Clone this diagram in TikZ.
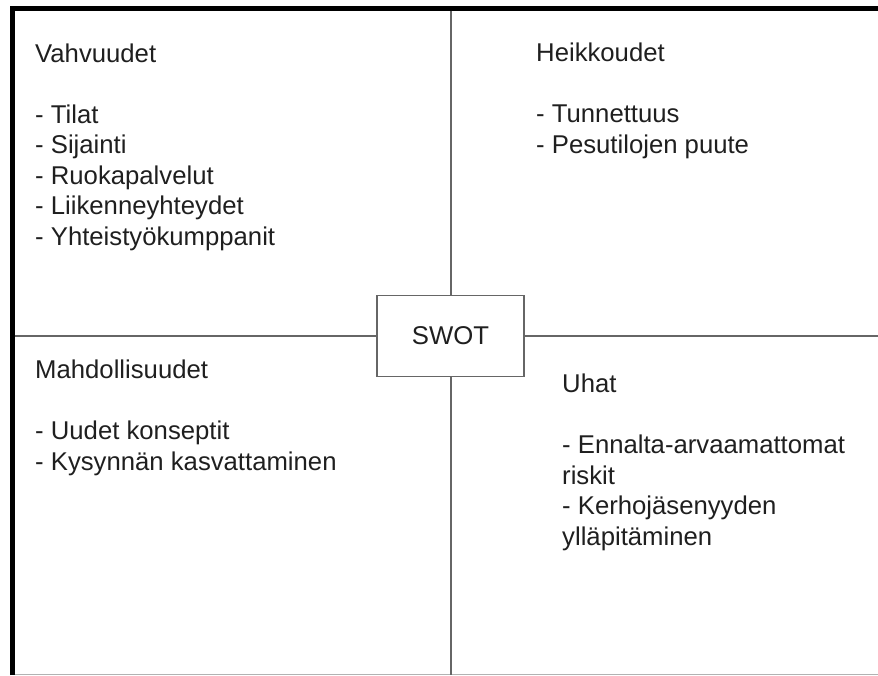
\documentclass[tikz,border=0pt]{standalone}
\usepackage{fontspec}
\setmainfont{Liberation Sans}
\usepackage{tikz}

\tikzset{
  divider/.style={draw=black!60,line width=2pt},
  quadtext/.style={anchor=base west,align=left,inner sep=0pt,text=black!88,
    font=\fontsize{25.7}{30.5}\selectfont},
}

\begin{document}
\begin{tikzpicture}[x=1pt,y=-1pt]
  \useasboundingbox (0,0) rectangle (878,675);
  % frame: thick left and top, faint bottom
  \draw[line width=5pt] (12.3,675) -- (12.3,8) -- (878,8);
  \draw[black!30,line width=0.8pt] (14.5,674.3) -- (878,674.3);
  % centre box and dividers
  \node[draw=black!60,line width=1.5pt,minimum width=147pt,minimum height=81pt,
        inner sep=0pt,text=black!88,font=\fontsize{25.7}{30.5}\selectfont] (swot) at (450.5,336) {SWOT};
  \coordinate (top) at (450.5,10.5);
  \coordinate (bot) at (450.5,675);
  \coordinate (lft) at (14.5,336);
  \coordinate (rgt) at (878,336);
  \draw[divider] (top) -- (swot.north);
  \draw[divider] (swot.south) -- (bot);
  \draw[divider] (lft) -- (swot.west);
  \draw[divider] (swot.east) -- (rgt);
  % quadrants (base = last line)
  \node[quadtext] (strengths) at (35,245) {Vahvuudet\\[30.5pt]- Tilat\\- Sijainti\\- Ruokapalvelut\\- Liikenneyhteydet\\- Yhteisty\"okumppanit};
  \node[quadtext] (weaknesses) at (536,153) {Heikkoudet\\[30.5pt]- Tunnettuus\\- Pesutilojen puute};
  \node[quadtext] (opportunities) at (35,470) {Mahdollisuudet\\[30.5pt]- Uudet konseptit\\- Kysynn\"an kasvattaminen};
  \node[quadtext] (threats) at (562,545) {Uhat\\[30.5pt]- Ennalta-arvaamattomat\\riskit\\- Kerhoj\"asenyyden\\yll\"apit\"aminen};
\end{tikzpicture}
\end{document}
